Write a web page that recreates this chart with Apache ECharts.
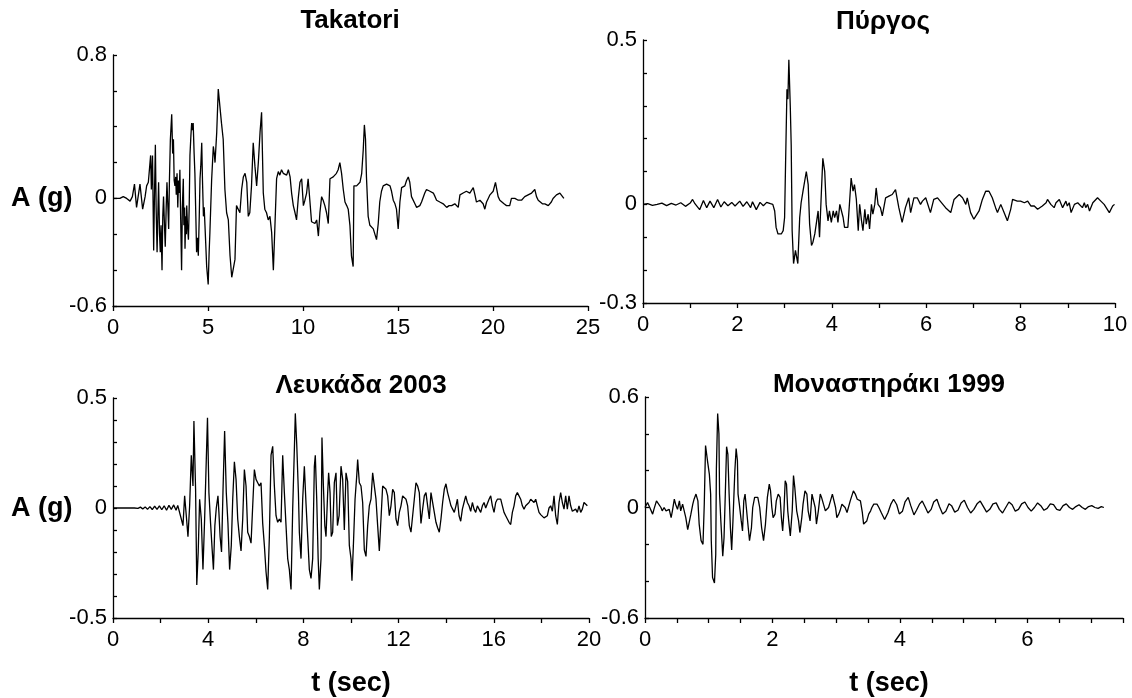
<!DOCTYPE html>
<html>
<head>
<meta charset="utf-8">
<script src="https://cdn.jsdelivr.net/npm/echarts@6/dist/echarts.min.js"></script>
<style>
html, body { margin: 0; padding: 0; background: #fff; }
#main { width: 1132px; height: 698px; }
</style>
</head>
<body>
<div id="main"></div>
<script>
// Accelerograms: [time (s), acceleration (g)]
const titles = ['Takatori', 'Πύργος', 'Λευκάδα 2003', 'Μοναστηράκι 1999'];
const yName = 'A (g)';
const xName = 't (sec)';

const takatori = [[0,0],[0.36,0],[0.54,0.01],[0.72,0],[0.90,-0.015],[1.02,0.01],[1.13,0.08],[1.24,-0.05],[1.42,0.08],[1.56,-0.06],[1.69,0.01],[1.77,0.07],[1.86,0.09],[1.98,0.24],[2.02,0.05],[2.08,0.24],[2.14,-0.29],[2.18,0.00],[2.23,0.30],[2.27,-0.05],[2.32,-0.30],[2.36,-0.10],[2.40,0.09],[2.45,-0.20],[2.49,-0.30],[2.53,-0.15],[2.58,-0.40],[2.62,-0.10],[2.66,0.01],[2.70,-0.12],[2.75,-0.27],[2.80,-0.05],[2.84,0.09],[2.89,-0.05],[2.93,-0.17],[2.97,0.10],[3.02,0.33],[3.09,0.47],[3.14,0.25],[3.18,0.33],[3.22,0.10],[3.26,0.07],[3.30,0.12],[3.33,0.02],[3.37,0.14],[3.41,-0.05],[3.45,0.10],[3.49,0.03],[3.52,0.16],[3.56,-0.10],[3.61,-0.40],[3.65,-0.05],[3.70,0.11],[3.73,-0.15],[3.77,-0.05],[3.79,-0.28],[3.83,-0.10],[3.86,-0.20],[3.88,-0.04],[3.92,-0.15],[3.97,-0.23],[4.01,-0.05],[4.05,0.24],[4.10,0.35],[4.14,0.42],[4.18,0.38],[4.22,0.42],[4.27,0.25],[4.31,0.14],[4.36,-0.10],[4.40,-0.30],[4.45,-0.22],[4.49,-0.32],[4.54,-0.10],[4.58,0.11],[4.62,0.18],[4.67,0.31],[4.71,0.10],[4.76,-0.10],[4.80,-0.05],[4.84,-0.15],[4.88,-0.25],[4.93,-0.38],[5.01,-0.48],[5.06,-0.30],[5.10,-0.19],[5.19,0.10],[5.28,0.29],[5.33,0.25],[5.37,0.20],[5.46,0.37],[5.54,0.61],[5.63,0.60],[5.71,0.42],[5.80,0.33],[5.89,0.05],[5.98,-0.08],[6.07,-0.12],[6.16,-0.32],[6.25,-0.44],[6.33,-0.43],[6.42,-0.34],[6.50,-0.04],[6.59,-0.06],[6.68,-0.08],[6.77,0.05],[6.86,0.12],[6.95,0.14],[7.04,0.09],[7.12,-0.10],[7.20,-0.08],[7.29,0.07],[7.38,0.31],[7.47,0.18],[7.56,0.07],[7.65,0.20],[7.74,0.37],[7.82,0.48],[7.91,0.03],[7.99,-0.06],[8.08,-0.08],[8.17,-0.12],[8.26,-0.10],[8.35,-0.19],[8.44,-0.40],[8.53,-0.41],[8.61,0.11],[8.70,0.15],[8.78,0.13],[8.87,0.16],[8.96,0.14],[9.05,0.15],[9.14,0.13],[9.23,0.16],[9.32,0.12],[9.40,0.03],[9.49,-0.04],[9.58,-0.08],[9.66,-0.12],[9.75,0.00],[9.84,0.09],[9.93,0.11],[10.02,-0.04],[10.10,-0.01],[10.19,0.03],[10.27,0.11],[10.36,0.12],[10.45,-0.13],[10.54,-0.12],[10.63,-0.14],[10.72,-0.12],[10.81,-0.21],[10.89,-0.08],[10.98,0.01],[11.06,-0.01],[11.15,-0.04],[11.24,-0.08],[11.33,-0.14],[11.42,0.11],[11.51,0.10],[11.59,0.12],[11.68,0.11],[11.76,0.14],[11.85,0.16],[11.94,0.20],[12.03,0.14],[12.12,0.05],[12.21,-0.02],[12.30,-0.04],[12.38,-0.06],[12.47,-0.15],[12.55,-0.32],[12.64,-0.38],[12.68,0.07],[12.75,0.06],[12.82,0.07],[12.91,0.08],[13.00,0.09],[13.09,0.14],[13.17,0.27],[13.23,0.41],[13.29,0.33],[13.34,0.12],[13.43,-0.10],[13.52,-0.15],[13.61,-0.14],[13.70,-0.17],[13.79,-0.18],[13.87,-0.23],[13.96,-0.14],[14.04,-0.02],[14.13,0.04],[14.22,0.07],[14.31,0.08],[14.40,0.08],[14.49,0.07],[14.58,0.07],[14.66,0.04],[14.75,-0.01],[14.84,-0.03],[14.92,-0.06],[15.01,-0.17],[15.10,-0.02],[15.19,0.06],[15.28,0.07],[15.36,0.07],[15.45,0.10],[15.54,0.12],[15.62,0.09],[15.71,0.01],[15.80,0.00],[15.89,-0.03],[15.98,-0.05],[16.06,-0.05],[16.15,-0.04],[16.24,-0.02],[16.32,-0.01],[16.41,0.03],[16.50,0.05],[16.59,0.06],[16.68,0.04],[16.77,0.04],[16.86,0.03],[16.95,0.01],[17.03,-0.01],[17.12,-0.02],[17.20,-0.02],[17.29,-0.03],[17.38,-0.03],[17.47,-0.04],[17.56,-0.05],[17.69,-0.04],[17.82,-0.04],[17.90,-0.03],[17.99,-0.03],[18.08,-0.04],[18.17,-0.05],[18.26,0.02],[18.35,0.02],[18.43,0.03],[18.52,0.03],[18.60,0.04],[18.69,0.03],[18.78,0.03],[18.87,0.04],[18.96,0.06],[19.05,0.02],[19.13,-0.02],[19.22,-0.01],[19.31,-0.01],[19.40,-0.02],[19.48,-0.03],[19.57,-0.06],[19.66,-0.02],[19.75,0.00],[19.84,0.02],[19.92,0.03],[20.01,0.04],[20.13,0.09],[20.27,0.01],[20.36,-0.01],[20.45,-0.02],[20.58,-0.03],[20.71,-0.04],[20.80,-0.03],[20.88,-0.04],[20.97,0.00],[21.06,0.00],[21.15,0.00],[21.24,-0.01],[21.33,-0.01],[21.41,0.00],[21.50,-0.01],[21.58,0.00],[21.67,0.01],[21.76,0.02],[21.85,0.02],[21.94,0.02],[22.03,0.03],[22.12,0.04],[22.20,0.05],[22.29,0.01],[22.38,-0.01],[22.46,-0.02],[22.60,-0.03],[22.73,-0.03],[22.82,-0.03],[22.91,-0.04],[22.99,-0.03],[23.07,-0.02],[23.16,0.00],[23.25,0.01],[23.34,0.02],[23.43,0.03],[23.52,0.03],[23.61,0.02],[23.73,0.00]];

const pyrgos = [[0,0],[0.1,0.002],[0.2,-0.003],[0.3,0.000],[0.4,0.004],[0.5,-0.004],[0.6,0.003],[0.7,-0.002],[0.8,0.005],[0.9,-0.006],[1.0,0.004],[1.05,0.015],[1.1,0.002],[1.2,-0.016],[1.28,0.012],[1.35,-0.01],[1.42,0.01],[1.5,-0.01],[1.58,0.015],[1.65,-0.008],[1.72,0.008],[1.8,-0.004],[1.88,0.006],[1.95,-0.005],[2.05,0.01],[2.12,-0.006],[2.2,0.008],[2.28,-0.01],[2.32,0.008],[2.4,-0.016],[2.48,0.006],[2.55,-0.004],[2.62,0.006],[2.7,0.002],[2.75,0.00],[2.79,-0.02],[2.82,-0.07],[2.86,-0.09],[2.93,-0.09],[2.97,-0.08],[3.00,-0.04],[3.02,0.12],[3.05,0.35],[3.07,0.32],[3.09,0.44],[3.12,0.30],[3.14,0.18],[3.16,-0.08],[3.19,-0.18],[3.23,-0.14],[3.28,-0.18],[3.32,-0.04],[3.35,0.005],[3.39,0.04],[3.43,0.035],[3.46,0.10],[3.50,0.06],[3.53,-0.06],[3.57,-0.125],[3.60,-0.115],[3.64,-0.09],[3.67,-0.06],[3.71,-0.02],[3.74,-0.10],[3.78,0.04],[3.81,0.14],[3.85,0.10],[3.88,0.00],[3.92,-0.05],[3.95,-0.02],[3.99,-0.055],[4.03,-0.02],[4.06,-0.04],[4.10,-0.02],[4.13,-0.055],[4.17,0.00],[4.20,0.00],[4.24,-0.04],[4.27,-0.07],[4.31,-0.075],[4.34,-0.07],[4.38,0.015],[4.41,0.08],[4.45,0.04],[4.48,0.06],[4.52,0.015],[4.56,-0.08],[4.59,0.00],[4.63,-0.05],[4.66,-0.08],[4.70,-0.015],[4.73,-0.06],[4.77,-0.03],[4.80,-0.075],[4.84,0.00],[4.87,-0.03],[4.91,0.00],[4.94,0.05],[4.98,0.00],[5.03,-0.01],[5.07,-0.035],[5.14,0.02],[5.21,0.025],[5.28,0.03],[5.35,0.045],[5.42,-0.01],[5.49,-0.055],[5.56,-0.01],[5.63,0.02],[5.67,-0.025],[5.74,0.02],[5.81,0.02],[5.88,0.00],[5.92,0.01],[5.99,0.02],[6.09,-0.025],[6.16,0.015],[6.24,0.02],[6.27,0.025],[6.41,-0.01],[6.52,-0.025],[6.59,0.015],[6.70,0.03],[6.77,0.02],[6.84,0.00],[6.87,0.02],[6.94,-0.025],[7.01,-0.045],[7.12,-0.02],[7.19,0.015],[7.26,0.04],[7.33,0.04],[7.40,0.02],[7.47,-0.01],[7.51,-0.025],[7.58,0.00],[7.65,-0.025],[7.72,-0.05],[7.79,-0.015],[7.83,0.015],[7.93,0.01],[8.00,0.01],[8.08,0.005],[8.15,0.01],[8.22,-0.005],[8.29,-0.005],[8.36,-0.015],[8.39,-0.02],[8.46,-0.005],[8.54,0.005],[8.57,0.015],[8.64,0.00],[8.71,-0.01],[8.75,0.005],[8.82,0.015],[8.89,-0.01],[8.96,0.01],[8.99,-0.005],[9.03,0.005],[9.07,-0.025],[9.14,0.00],[9.21,0.005],[9.31,-0.01],[9.35,0.005],[9.38,-0.01],[9.42,0.00],[9.46,-0.02],[9.53,0.005],[9.63,0.02],[9.70,0.01],[9.77,0.00],[9.88,-0.025],[9.95,-0.005],[9.99,0.00]];

const lefkada = [[0,0],[0.9,0],[0.95,0.003],[1.05,-0.002],[1.15,0.004],[1.25,-0.004],[1.35,0.005],[1.45,-0.006],[1.55,0.006],[1.65,-0.007],[1.75,0.008],[1.85,-0.006],[1.95,0.01],[2.05,-0.008],[2.15,0.01],[2.25,-0.01],[2.35,0.012],[2.45,-0.006],[2.55,0.014],[2.65,-0.01],[2.72,0.012],[2.80,0.01],[2.87,-0.05],[2.94,-0.08],[3.01,0.055],[3.08,-0.035],[3.15,-0.13],[3.22,0.01],[3.29,0.24],[3.36,0.10],[3.40,0.395],[3.47,0.085],[3.52,-0.35],[3.58,-0.20],[3.64,0.04],[3.71,-0.05],[3.78,-0.28],[3.85,-0.05],[3.92,0.22],[3.97,0.41],[4.03,0.07],[4.10,-0.07],[4.17,-0.195],[4.22,-0.28],[4.28,-0.08],[4.34,0.00],[4.41,0.055],[4.45,-0.02],[4.50,-0.13],[4.56,-0.20],[4.62,0.07],[4.69,0.35],[4.76,0.07],[4.83,-0.07],[4.90,-0.28],[4.97,-0.17],[5.03,0.04],[5.10,0.21],[5.17,0.13],[5.24,-0.05],[5.31,-0.13],[5.38,-0.195],[5.45,-0.05],[5.52,0.175],[5.59,0.10],[5.66,-0.11],[5.73,-0.13],[5.80,-0.16],[5.87,0.01],[5.94,0.175],[6.01,0.13],[6.08,0.115],[6.15,0.10],[6.22,0.115],[6.29,-0.07],[6.36,-0.17],[6.43,-0.29],[6.50,-0.37],[6.57,-0.13],[6.64,0.24],[6.71,0.28],[6.78,0.10],[6.85,-0.035],[6.92,-0.065],[6.99,-0.05],[7.06,-0.065],[7.13,0.24],[7.20,0.07],[7.27,-0.08],[7.34,-0.23],[7.41,-0.28],[7.48,-0.37],[7.55,-0.005],[7.62,0.265],[7.66,0.43],[7.72,0.29],[7.79,0.07],[7.83,-0.11],[7.90,-0.23],[7.97,0.04],[8.04,0.19],[8.11,0.02],[8.18,-0.13],[8.25,-0.28],[8.32,-0.32],[8.39,-0.23],[8.46,0.19],[8.50,0.24],[8.56,0.04],[8.62,-0.23],[8.67,-0.37],[8.74,-0.23],[8.78,0.32],[8.84,0.10],[8.90,-0.08],[8.95,-0.13],[9.02,0.07],[9.06,0.16],[9.12,0.07],[9.17,-0.13],[9.23,-0.11],[9.30,0.115],[9.37,0.16],[9.43,-0.08],[9.50,-0.035],[9.58,0.19],[9.65,0.13],[9.72,-0.10],[9.79,0.16],[9.86,0.12],[9.93,-0.17],[10.00,-0.23],[10.04,-0.33],[10.10,-0.17],[10.17,0.04],[10.24,0.145],[10.28,0.22],[10.35,0.115],[10.42,0.10],[10.49,0.025],[10.56,-0.19],[10.63,-0.22],[10.70,-0.08],[10.77,0.01],[10.84,0.04],[10.91,0.16],[10.98,0.16],[11.05,0.04],[11.12,-0.08],[11.19,-0.195],[11.26,-0.05],[11.33,0.10],[11.40,0.10],[11.47,0.085],[11.54,0.055],[11.61,-0.035],[11.68,0.01],[11.75,0.085],[11.82,0.07],[11.89,-0.05],[11.96,-0.08],[12.03,-0.02],[12.10,0.01],[12.17,0.055],[12.24,0.06],[12.31,0.04],[12.38,0.01],[12.45,-0.08],[12.52,-0.11],[12.59,-0.035],[12.66,0.04],[12.73,0.115],[12.80,0.10],[12.87,0.07],[12.94,-0.07],[13.01,-0.005],[13.08,0.055],[13.15,0.07],[13.22,0.01],[13.29,-0.05],[13.36,0.07],[13.43,0.07],[13.50,-0.02],[13.57,-0.065],[13.64,-0.09],[13.71,-0.11],[13.78,-0.05],[13.85,0.025],[13.92,0.085],[13.99,0.11],[14.06,0.07],[14.13,0.04],[14.20,0.01],[14.27,-0.005],[14.34,-0.02],[14.41,0.01],[14.47,0.04],[14.54,-0.035],[14.61,-0.06],[14.68,-0.005],[14.75,0.025],[14.82,0.055],[14.89,0.025],[14.96,0.01],[15.03,-0.015],[15.10,0.025],[15.17,-0.005],[15.24,-0.02],[15.31,0.01],[15.38,-0.005],[15.45,-0.02],[15.52,0.01],[15.59,0.025],[15.66,0.00],[15.73,-0.005],[15.80,0.04],[15.87,0.055],[15.94,0.01],[16.01,-0.02],[16.08,0.025],[16.15,0.04],[16.22,0.04],[16.29,0.04],[16.36,0.01],[16.43,-0.02],[16.50,-0.035],[16.57,-0.05],[16.64,-0.065],[16.71,-0.075],[16.78,-0.02],[16.85,0.01],[16.92,0.055],[16.99,0.07],[17.06,0.065],[17.13,0.04],[17.20,0.01],[17.27,-0.005],[17.34,0.01],[17.41,0.01],[17.48,0.025],[17.55,0.04],[17.62,0.04],[17.69,0.025],[17.76,0.04],[17.83,0.01],[17.90,-0.02],[17.97,-0.03],[18.04,-0.035],[18.11,-0.045],[18.18,-0.05],[18.25,-0.035],[18.32,0.00],[18.39,0.01],[18.46,-0.015],[18.53,0.055],[18.60,-0.035],[18.67,-0.075],[18.74,0.025],[18.81,0.07],[18.88,0.025],[18.95,-0.005],[19.02,0.055],[19.09,-0.005],[19.16,0.055],[19.23,0.01],[19.30,-0.015],[19.37,-0.02],[19.44,-0.005],[19.51,-0.02],[19.58,0.01],[19.65,-0.02],[19.72,-0.005],[19.79,0.025],[19.86,0.03],[19.93,0.01]];

const monastiraki = [[0.00,0],[0.04,0.027],[0.07,0.018],[0.12,-0.036],[0.14,-0.01],[0.18,0.036],[0.21,0.027],[0.25,0.00],[0.27,-0.018],[0.30,0.00],[0.33,-0.018],[0.35,-0.027],[0.38,-0.01],[0.41,-0.055],[0.43,-0.018],[0.46,0.045],[0.48,0.018],[0.51,-0.01],[0.54,0.036],[0.56,-0.018],[0.59,0.018],[0.62,0.027],[0.64,-0.055],[0.67,-0.12],[0.69,-0.11],[0.72,-0.036],[0.75,0.018],[0.77,0.045],[0.80,0.073],[0.83,0.036],[0.85,-0.09],[0.88,-0.18],[0.91,-0.20],[0.93,0.018],[0.95,0.336],[0.97,0.327],[0.98,0.255],[1.01,0.18],[1.03,0.073],[1.04,-0.18],[1.06,-0.38],[1.09,-0.41],[1.11,-0.255],[1.12,0.21],[1.14,0.51],[1.16,0.40],[1.17,0.073],[1.19,-0.073],[1.22,-0.265],[1.24,-0.164],[1.26,0.073],[1.28,0.33],[1.30,0.29],[1.32,0.073],[1.34,-0.11],[1.36,-0.23],[1.38,-0.073],[1.41,0.20],[1.43,0.32],[1.45,0.255],[1.46,0.073],[1.48,0.018],[1.51,-0.073],[1.53,-0.127],[1.55,0.036],[1.57,0.073],[1.59,0.00],[1.62,-0.11],[1.64,-0.18],[1.67,-0.11],[1.69,0.00],[1.72,0.055],[1.75,0.064],[1.77,0.055],[1.80,0.00],[1.83,-0.11],[1.86,-0.18],[1.89,-0.09],[1.92,0.055],[1.95,0.127],[1.97,0.09],[1.99,0.00],[2.01,-0.055],[2.04,-0.036],[2.06,0.036],[2.09,0.073],[2.12,0.055],[2.14,-0.055],[2.16,-0.127],[2.18,-0.018],[2.20,0.145],[2.22,0.127],[2.24,-0.018],[2.26,-0.09],[2.28,-0.155],[2.31,-0.018],[2.33,0.173],[2.35,0.11],[2.38,-0.018],[2.41,-0.073],[2.43,-0.136],[2.46,-0.055],[2.48,0.018],[2.51,0.09],[2.54,0.073],[2.56,-0.018],[2.59,-0.073],[2.62,0.073],[2.64,0.082],[2.67,0.00],[2.69,-0.09],[2.72,-0.018],[2.75,0.073],[2.77,0.055],[2.80,0.018],[2.83,-0.018],[2.85,-0.027],[2.88,0.00],[2.91,0.036],[2.94,0.073],[2.96,0.064],[2.99,0.00],[3.01,-0.055],[3.04,-0.036],[3.06,-0.018],[3.09,0.018],[3.12,0.027],[3.14,0.00],[3.17,-0.027],[3.19,-0.018],[3.22,0.036],[3.25,0.027],[3.27,0.09],[3.30,0.073],[3.33,0.045],[3.35,0.055],[3.38,0.036],[3.41,-0.027],[3.43,-0.09],[3.46,-0.10],[3.48,-0.073],[3.51,-0.036],[3.54,-0.018],[3.56,0.00],[3.59,0.018],[3.62,0.027],[3.64,0.018],[3.67,0.00],[3.71,-0.03],[3.76,-0.065],[3.81,-0.03],[3.86,0.02],[3.90,0.045],[3.95,0.015],[3.99,-0.035],[4.04,-0.02],[4.08,0.03],[4.13,0.055],[4.17,0.01],[4.22,-0.04],[4.26,-0.015],[4.31,0.02],[4.35,0.035],[4.40,0.00],[4.44,-0.03],[4.49,-0.01],[4.53,0.03],[4.58,0.045],[4.62,0.005],[4.67,-0.035],[4.72,-0.02],[4.77,0.02],[4.81,0.01],[4.86,-0.025],[4.91,-0.015],[4.96,0.025],[5.01,0.04],[5.06,0.00],[5.11,-0.03],[5.16,-0.01],[5.21,0.02],[5.26,0.035],[5.31,0.005],[5.36,-0.025],[5.41,-0.01],[5.46,0.02],[5.51,0.025],[5.56,-0.01],[5.61,-0.03],[5.66,0.00],[5.71,0.03],[5.76,0.015],[5.81,-0.02],[5.86,-0.01],[5.91,0.02],[5.96,0.03],[6.01,0.00],[6.06,-0.02],[6.11,0.00],[6.16,0.025],[6.21,0.01],[6.26,-0.015],[6.31,-0.005],[6.36,0.02],[6.41,0.015],[6.46,-0.01],[6.51,-0.015],[6.56,0.01],[6.61,0.02],[6.66,0.00],[6.71,-0.01],[6.76,0.005],[6.81,0.015],[6.86,0.00],[6.91,-0.01],[6.96,0.005],[7.01,0.01],[7.06,0.00],[7.11,-0.005],[7.16,0.005],[7.20,0.00]];

// Axis ranges and labelled ticks
const xMax = [25, 10, 20, 7.5];
const xStep = [5, 1, 2, 0.5];
const xLabels = [[0,5,10,15,20,25],[0,2,4,6,8,10],[0,4,8,12,16,20],[0,2,4,6]];
const yMin = [-0.6, -0.3, -0.5, -0.6];
const yMax = [0.8, 0.5, 0.5, 0.6];
const yStep = [0.2, 0.1, 0.1, 0.2];
const yLabels = [[-0.6,0,0.8],[-0.3,0,0.5],[-0.5,0,0.5],[-0.6,0,0.6]];

const seriesData = [takatori, pyrgos, lefkada, monastiraki];

const grids = [
  { left: 113, top: 55, width: 475, height: 251 },
  { left: 643, top: 40, width: 472, height: 263 },
  { left: 113, top: 398, width: 476, height: 220 },
  { left: 645, top: 397, width: 478, height: 221 }
];

const FONT = '"Liberation Sans", Arial, sans-serif';

function pick(list) {
  return function (v) {
    for (const l of list) {
      if (Math.abs(l - v) < 1e-6) return String(l);
    }
    return '';
  };
}

const axisLineStyle = { color: '#000', width: 1.3 };

const option = {
  animation: false,
  backgroundColor: '#fff',
  grid: grids.map(g => Object.assign({ containLabel: false }, g)),
  xAxis: grids.map((g, i) => ({
    type: 'value',
    gridIndex: i,
    min: 0,
    max: xMax[i],
    interval: xStep[i],
    axisLine: { show: true, onZero: false, lineStyle: axisLineStyle },
    axisTick: { show: true, inside: false, length: 5, lineStyle: axisLineStyle },
    splitLine: { show: false },
    axisLabel: {
      interval: 0, hideOverlap: false, showMinLabel: true, showMaxLabel: true,
      margin: 11, color: '#000', fontSize: 22, fontFamily: FONT,
      formatter: pick(xLabels[i])
    }
  })),
  yAxis: grids.map((g, i) => ({
    type: 'value',
    gridIndex: i,
    min: yMin[i],
    max: yMax[i],
    interval: yStep[i],
    axisLine: { show: true, onZero: false, lineStyle: axisLineStyle },
    axisTick: { show: true, inside: true, length: 4, lineStyle: axisLineStyle },
    splitLine: { show: false },
    axisLabel: {
      interval: 0, hideOverlap: false, showMinLabel: true, showMaxLabel: true,
      margin: 6, color: '#000', fontSize: 22, fontFamily: FONT,
      formatter: pick(yLabels[i])
    }
  })),
  series: seriesData.map((d, i) => ({
    type: 'line',
    xAxisIndex: i,
    yAxisIndex: i,
    data: d,
    symbol: 'none',
    showSymbol: false,
    silent: true,
    lineStyle: { color: '#000', width: 1.3 }
  })),
  graphic: [
    { type: 'text', x: 350, y: 21, style: { text: titles[0], font: 'bold 26px ' + FONT, fill: '#000', align: 'center', verticalAlign: 'middle' } },
    { type: 'text', x: 883, y: 22, style: { text: titles[1], font: 'bold 26px ' + FONT, fill: '#000', align: 'center', verticalAlign: 'middle' } },
    { type: 'text', x: 361, y: 386, style: { text: titles[2], font: 'bold 26px ' + FONT, fill: '#000', align: 'center', verticalAlign: 'middle' } },
    { type: 'text', x: 889, y: 385, style: { text: titles[3], font: 'bold 26px ' + FONT, fill: '#000', align: 'center', verticalAlign: 'middle' } },
    { type: 'text', x: 11, y: 199, style: { text: yName, font: 'bold 27px ' + FONT, fill: '#000', align: 'left', verticalAlign: 'middle' } },
    { type: 'text', x: 11, y: 509, style: { text: yName, font: 'bold 27px ' + FONT, fill: '#000', align: 'left', verticalAlign: 'middle' } },
    { type: 'text', x: 351, y: 684, style: { text: xName, font: 'bold 27px ' + FONT, fill: '#000', align: 'center', verticalAlign: 'middle' } },
    { type: 'text', x: 889, y: 684, style: { text: xName, font: 'bold 27px ' + FONT, fill: '#000', align: 'center', verticalAlign: 'middle' } }
  ]
};

const chart = echarts.init(document.getElementById('main'), null, { renderer: 'canvas' });
chart.setOption(option);
</script>
</body>
</html>
